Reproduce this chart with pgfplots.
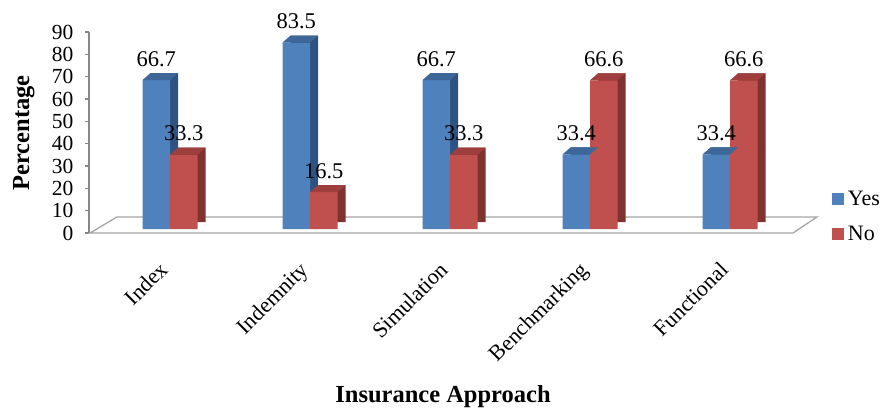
\documentclass[border=0pt]{standalone}
\usepackage{pgfplots}
\pgfplotsset{compat=1.18}
\usepackage{fontspec}
\setmainfont{Liberation Serif}
\definecolor{yesF}{HTML}{4F81BD}
\definecolor{yesT}{HTML}{3D6699}
\definecolor{yesS}{HTML}{2F5380}
\definecolor{noF}{HTML}{C0504D}
\definecolor{noT}{HTML}{9E3F3D}
\definecolor{noS}{HTML}{7F3331}
\definecolor{floorc}{HTML}{A6A6A6}
\definecolor{axisc}{HTML}{868686}
\pgfplotstableread{
x yes no
0 66.7 33.3
1 83.5 16.5
2 66.7 33.3
3 33.4 66.6
4 33.4 66.6
}\datatab
\begin{document}
\begin{tikzpicture}
\path[use as bounding box] (-89pt,-174pt) rectangle (807pt,233pt);
\begin{axis}[
  at={(0pt,0pt)}, anchor=south west,
  scale only axis, width=728pt, height=201pt,
  clip=false, enlargelimits=false,
  ybar, bar width=27.5pt,
  xmin=-0.5786, xmax=4.621, ymin=0, ymax=90,
  ytick={0,10,...,90}, xtick={0,1,2,3,4},
  xticklabels={Index,Indemnity,Simulation,Benchmarking,Functional},
  axis lines=left,
  axis line style={-, draw=axisc, line width=1.2pt},
  x axis line style={draw=none},
  xtick style={draw=none},
  ytick style={draw=axisc, line width=1.2pt},
  major tick length=4pt, tick align=outside,
  /pgf/number format/assume math mode=true,
  tick label style={font=\fontsize{21.5}{21.5}\selectfont},
  yticklabel style={xshift=-8pt},
  xticklabel style={font=\fontsize{22}{22}\selectfont, xshift=-11.5pt, yshift=-18.5pt, rotate=45, anchor=north east},
  xlabel={Insurance Approach},
  ylabel={Percentage},
  label style={font=\fontsize{24.5}{24.5}\selectfont\bfseries},
  x label style={at={(axis description cs:0.4863,-0.841)}, anchor=base},
  y label style={at={(axis description cs:-0.0824,0.4975)}, anchor=base, rotate=0},
  legend style={at={(axis description cs:1.021,0.23)}, anchor=north west, draw=none, fill=none,
    font=\fontsize{22}{22}\selectfont, inner sep=0pt, row sep=11pt,
    nodes={inner sep=4pt}},
  legend cell align=left,
]
% floor
\draw[floorc, line width=1.3pt] (axis cs:-0.571,0) -- (axis cs:-0.379,7.2) -- (axis cs:4.621,7.2) -- (axis cs:4.45,0) -- cycle;
% Yes: side copy, front with top face
\addplot[forget plot, fill=yesS, draw=none, bar shift=-13.75pt, xshift=8pt, yshift=11pt] table[x=x,y=yes] {\datatab};
\addplot[forget plot, fill=yesF, draw=none, bar shift=-13.75pt, yshift=4pt,
  nodes near coords={\tikz\fill[yesT] (0pt,0pt) -- (27.5pt,0pt) -- (35.5pt,7pt) -- (8pt,7pt) -- cycle;},
  every node near coord/.append style={anchor=south west, inner sep=0pt, outer sep=0pt, xshift=-13.75pt}] table[x=x,y=yes] {\datatab};
% No
\addplot[forget plot, fill=noS, draw=none, bar shift=13.75pt, xshift=8pt, yshift=11pt] table[x=x,y=no] {\datatab};
\addplot[forget plot, fill=noF, draw=none, bar shift=13.75pt, yshift=4pt,
  nodes near coords={\tikz\fill[noT] (0pt,0pt) -- (27.5pt,0pt) -- (35.5pt,7pt) -- (8pt,7pt) -- cycle;},
  every node near coord/.append style={anchor=south west, inner sep=0pt, outer sep=0pt, xshift=-13.75pt}] table[x=x,y=no] {\datatab};
% value labels
\addplot[forget plot, fill=none, draw=none, bar shift=-13.75pt, yshift=4pt,
  nodes near coords, every node near coord/.append style={anchor=south, inner sep=0pt, yshift=13.5pt, font=\fontsize{22.5}{22.5}\selectfont}] table[x=x,y=yes] {\datatab};
\addplot[forget plot, fill=none, draw=none, bar shift=13.75pt, yshift=4pt,
  nodes near coords, every node near coord/.append style={anchor=south, inner sep=0pt, yshift=13.5pt, font=\fontsize{22.5}{22.5}\selectfont}] table[x=x,y=no] {\datatab};
\addlegendimage{legend image code/.code={\fill[yesF] (0pt,-5.5pt) rectangle (11pt,5.5pt);}}
\addlegendentry{Yes}
\addlegendimage{legend image code/.code={\fill[noF] (0pt,-5.5pt) rectangle (11pt,5.5pt);}}
\addlegendentry{No}
\end{axis}
\end{tikzpicture}
\end{document}
